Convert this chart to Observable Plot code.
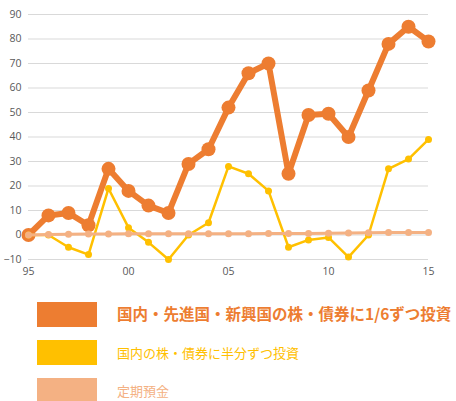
<!DOCTYPE html>
<html>
<head>
<meta charset="utf-8">
<script src="https://cdn.jsdelivr.net/npm/d3@7"></script>
<script src="https://cdn.jsdelivr.net/npm/@observablehq/plot@0.6"></script>
<style>
  body { margin: 0; background: #fff; font-family: "Noto Sans CJK JP", "Noto Sans", sans-serif; }
  #chart svg { display: block; }
  #legend { padding-top: 10px; }
  .row { display: flex; align-items: center; height: 38px; line-height: 1; }
  .sw { width: 60px; height: 25px; margin-left: 37px; margin-right: 20px; flex: none; }
</style>
</head>
<body>
<div id="chart"></div>
<div id="legend"></div>
<script>
let years = d3.range(1995, 2016);
let diversified = [0, 8, 9, 4, 27, 18, 12, 9, 29, 35, 52, 66, 70, 25, 49, 49.5, 40, 59, 78, 85, 79];
let domestic = [0, 0, -5, -8, 19, 3, -3, -10, 0, 5, 28, 25, 18, -5, -2, -1, -9, 0, 27, 31, 39];
let deposit = [0, 0.2, 0.3, 0.4, 0.4, 0.5, 0.5, 0.5, 0.5, 0.5, 0.5, 0.5, 0.6, 0.6, 0.6, 0.7, 0.8, 0.9, 1, 1, 1];
let names = ["国内・先進国・新興国の株・債券に1/6ずつ投資", "国内の株・債券に半分ずつ投資", "定期預金"];
let colors = ["#ED7D31", "#FFC000", "#F4B183"];
let yTicks = d3.range(-10, 91, 10);
let xTicks = [1995, 2000, 2005, 2010, 2015];

const rows = (vals) => years.map((y, i) => ({year: y, value: vals[i]}));

let chart = Plot.plot({
  width: 456,
  height: 285,
  marginLeft: 28,
  marginRight: 28,
  marginTop: 14,
  marginBottom: 26,
  style: {fontFamily: "'Open Sans', sans-serif", fontSize: "10.5px", color: "#595959"},
  x: {domain: [1995, 2015]},
  y: {domain: [-10, 90]},
  marks: [
    Plot.gridY(yTicks, {stroke: "#d9d9d9", strokeOpacity: 1, strokeWidth: 1}),
    Plot.axisY(yTicks, {tickSize: 0, tickPadding: 7, label: null}),
    Plot.axisX(xTicks, {tickSize: 0, tickPadding: 8, label: null,
      tickFormat: d => String(d % 100).padStart(2, "0")}),
    Plot.line(rows(diversified), {x: "year", y: "value", stroke: colors[0], strokeWidth: 6}),
    Plot.dot(rows(diversified), {x: "year", y: "value", fill: colors[0], r: 7}),
    Plot.line(rows(domestic), {x: "year", y: "value", stroke: colors[1], strokeWidth: 2.5}),
    Plot.dot(rows(domestic), {x: "year", y: "value", fill: colors[1], r: 3.5}),
    Plot.line(rows(deposit), {x: "year", y: "value", stroke: colors[2], strokeWidth: 3}),
    Plot.dot(rows(deposit), {x: "year", y: "value", fill: colors[2], r: 3.5})
  ]
});
d3.select("#chart").append(() => chart);

let leg = d3.select("#legend");
names.forEach((n, i) => {
  let row = leg.append("div").attr("class", "row");
  row.append("div").attr("class", "sw").style("background", colors[i]);
  row.append("span")
    .style("color", colors[i])
    .style("font-size", i === 0 ? "15.5px" : "13px")
    .style("font-weight", i === 0 ? "bold" : "normal")
    .text(n);
});
</script>
</body>
</html>
